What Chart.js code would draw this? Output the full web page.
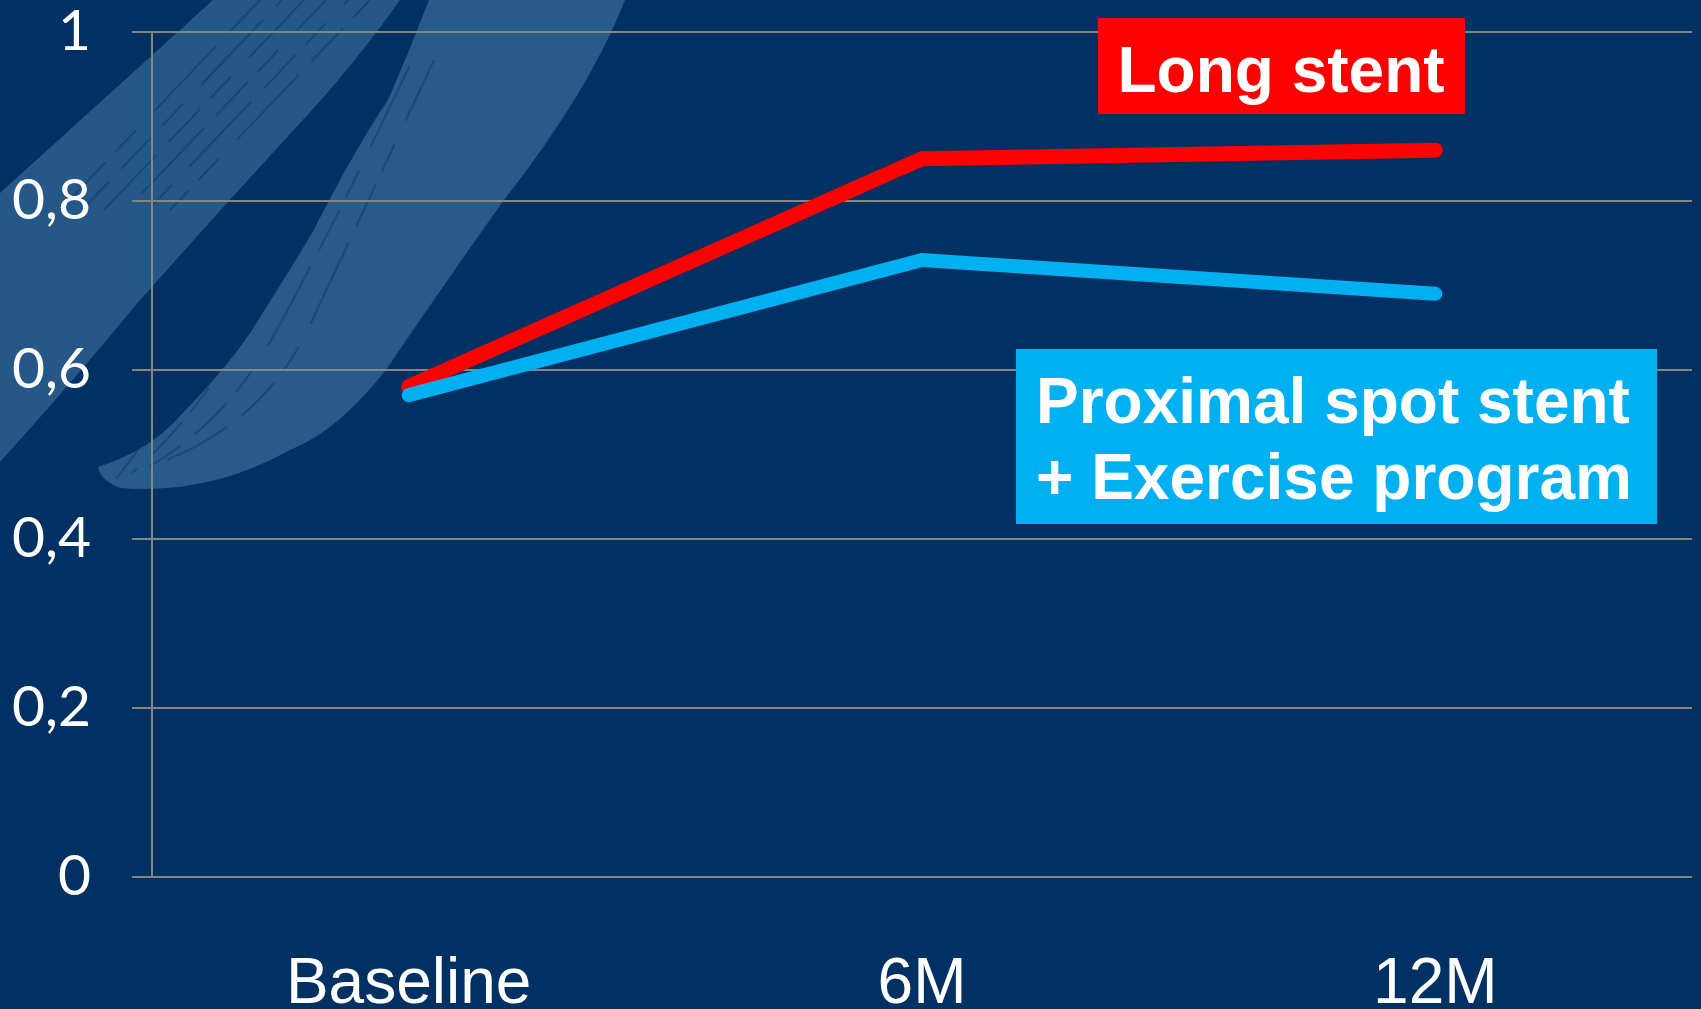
<!DOCTYPE html>
<html>
<head>
<meta charset="utf-8">
<script src="https://cdn.jsdelivr.net/npm/chart.js@4/dist/chart.umd.min.js"></script>
<style>
  html, body { margin: 0; padding: 0; background: #003162; overflow: hidden; }
  #wrap { width: 1701px; height: 1009px; }
</style>
</head>
<body>
<div id="wrap"><canvas id="chart" width="1701" height="1009"></canvas></div>
<script>
// Follow-up time points
const categories = ['Baseline', '6M', '12M'];

// Series values
const longStent = [0.58, 0.85, 0.86];
const spotStentExercise = [0.57, 0.73, 0.69];

// Value axis ticks
const yTicks = [0, 0.2, 0.4, 0.6, 0.8, 1];

// Series names shown in the coloured call-out boxes
const longStentName = 'Long stent';
const spotStentName = ['Proximal spot stent', '+ Exercise program'];

const NAVY = '#003162';
const BRUSH = '#285a8a';
const RED = '#ff0000';
const CYAN = '#00b0f0';
const GRID = '#858585';

// Slide background with the two brush strokes on the left
const backdrop = {
  id: 'backdrop',
  beforeDraw(chart) {
    const ctx = chart.ctx;
    ctx.save();
    ctx.fillStyle = NAVY;
    ctx.fillRect(0, 0, chart.width, chart.height);

    // outer stroke
    ctx.fillStyle = BRUSH;
    ctx.globalAlpha = 0.92;
    ctx.beginPath();
    ctx.moveTo(213, 0);
    ctx.lineTo(400, 0);
    ctx.quadraticCurveTo(350, 70, 300, 123);
    ctx.quadraticCurveTo(220, 210, 140, 300);
    ctx.quadraticCurveTo(70, 385, 0, 462);
    ctx.lineTo(0, 193);
    ctx.closePath();
    ctx.fill();

    // inner hooked stroke
    ctx.globalAlpha = 1;
    ctx.beginPath();
    ctx.moveTo(429, 0);
    ctx.lineTo(625, 0);
    ctx.quadraticCurveTo(590, 90, 504, 200);
    ctx.quadraticCurveTo(440, 290, 388, 367);
    ctx.quadraticCurveTo(340, 430, 290, 450);
    ctx.quadraticCurveTo(210, 495, 120, 488);
    ctx.quadraticCurveTo(100, 480, 98, 467);
    ctx.quadraticCurveTo(150, 450, 179, 417);
    ctx.quadraticCurveTo(225, 370, 250, 333);
    ctx.quadraticCurveTo(290, 270, 312, 233);
    ctx.quadraticCurveTo(360, 140, 388, 100);
    ctx.quadraticCurveTo(410, 50, 429, 0);
    ctx.closePath();
    ctx.fill();

    // dry-brush streaks
    ctx.strokeStyle = NAVY;
    ctx.globalAlpha = 0.4;
    ctx.lineWidth = 2;
    ctx.setLineDash([46, 18, 90, 26, 30, 14]);
    [-60, -38, -16, 6, 28, 50].forEach((k, i) => {
      ctx.lineDashOffset = i * 37;
      ctx.beginPath();
      ctx.moveTo(320 + k, 0);
      ctx.lineTo(120 + k, 210);
      ctx.stroke();
    });
    [-30, -10, 12, 34].forEach((k, i) => {
      ctx.lineDashOffset = i * 29;
      ctx.beginPath();
      ctx.moveTo(400 + k, 60);
      ctx.quadraticCurveTo(330 + k, 210, 260 + k * 1.4, 330);
      ctx.quadraticCurveTo(210 + k * 1.6, 420, 140 + k * 0.8, 470 - k * 0.3);
      ctx.stroke();
    });
    ctx.restore();
  }
};

// Coloured call-out boxes naming each series
const callouts = {
  id: 'callouts',
  afterDatasetsDraw(chart) {
    const ctx = chart.ctx;
    ctx.save();
    ctx.font = 'bold 64px "Liberation Sans", Arial, sans-serif';
    ctx.fillStyle = RED;
    ctx.fillRect(1098, 18, 367, 96);
    ctx.fillStyle = '#ffffff';
    ctx.textAlign = 'center';
    ctx.textBaseline = 'alphabetic';
    ctx.fillText(longStentName, 1281, 92);

    ctx.fillStyle = CYAN;
    ctx.fillRect(1016, 349, 641, 175);
    ctx.fillStyle = '#ffffff';
    ctx.textAlign = 'left';
    ctx.fillText(spotStentName[0], 1036, 423);
    ctx.fillText(spotStentName[1], 1036, 499);
    ctx.restore();
  }
};

new Chart(document.getElementById('chart'), {
  type: 'line',
  data: {
    labels: categories,
    datasets: [
      {
        label: longStentName,
        data: longStent,
        borderColor: RED,
        borderWidth: 15,
        borderCapStyle: 'round',
        borderJoinStyle: 'miter',
        pointRadius: 0,
        tension: 0,
        order: 1
      },
      {
        label: spotStentName.join(' '),
        data: spotStentExercise,
        borderColor: CYAN,
        borderWidth: 14,
        borderCapStyle: 'round',
        borderJoinStyle: 'miter',
        pointRadius: 0,
        tension: 0,
        order: 0
      }
    ]
  },
  options: {
    responsive: false,
    animation: false,
    devicePixelRatio: 1,
    layout: { padding: { top: 32, right: 9, left: 0, bottom: 0 } },
    plugins: {
      legend: { display: false },
      tooltip: { enabled: false }
    },
    scales: {
      x: {
        type: 'category',
        offset: true,
        grid: { display: false, drawTicks: false },
        border: { display: false },
        ticks: {
          color: '#ffffff',
          padding: 70,
          maxRotation: 0,
          font: { family: '"Liberation Sans", Arial, sans-serif', size: 64 }
        },
        afterFit(scale) { scale.height = 132.5; }
      },
      y: {
        min: 0,
        max: 1,
        afterBuildTicks(scale) { scale.ticks = yTicks.map(v => ({ value: v })); },
        grid: { color: GRID, lineWidth: 2, tickLength: 20, drawTicks: true, tickColor: GRID },
        border: { display: true, color: GRID, width: 2 },
        ticks: {
          color: '#ffffff',
          padding: 41,
          font: { family: 'Lato, "Open Sans", sans-serif', size: 57 },
          callback: v => String(Math.round(v * 10) / 10).replace('.', ',')
        },
        afterFit(scale) {
          scale.width = 152;
          scale.paddingTop = 0;
          scale.paddingBottom = 0;
        }
      }
    }
  },
  plugins: [backdrop, callouts]
});
</script>
</body>
</html>
